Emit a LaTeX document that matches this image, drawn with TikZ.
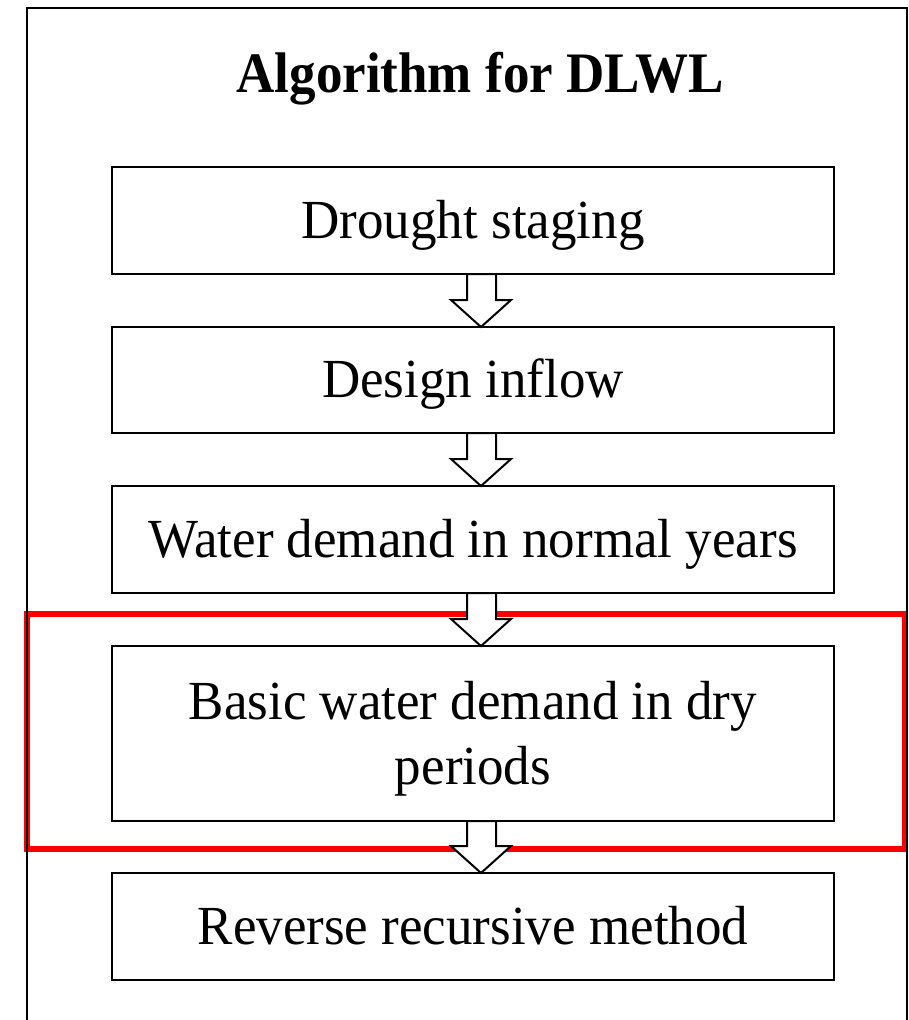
\documentclass[tikz,border=0pt]{standalone}
\usepackage{fontspec}
\setmainfont{Liberation Serif}
\usetikzlibrary{calc}
\newcommand{\vs}[1]{\scalebox{1}[1.04]{#1}}
\newcommand{\oneline}[1]{\raisebox{0pt}[35pt][0pt]{\vs{#1}}}
\tikzset{
  stepbox/.style={draw=black, line width=2pt, fill=white, minimum width=722pt, inner sep=0pt, outer sep=0pt, align=center, font=\fontsize{53}{65}\selectfont},
  blockarr/.style={draw=black, line width=2pt, fill=white, line join=miter},
  frameline/.style={draw=black, line width=2pt},
  redline/.style={draw=red, line width=6.5pt},
}
\newcommand{\blockarrow}[2]{%
  \draw[blockarr] ($(#1.south)+(-6,0)$) -- ($(#1.south)+(23,0)$) -- ($(#2.north)+(23,-27)$) -- ($(#2.north)+(38,-27)$) -- ($(#2.north)+(8,0)$) -- ($(#2.north)+(-22,-27)$) -- ($(#2.north)+(-6,-27)$) -- cycle;}
\begin{document}
\begin{tikzpicture}[x=1pt,y=-1pt]
\useasboundingbox (0,0) rectangle (908,1020);
% red highlight
\draw[redline] (27,614) rectangle (905,849);
% outer frame (open at bottom)
\draw[frameline] (27,1025) -- (27,8) -- (907,8) -- (907,1025);
% title
\node[anchor=base, inner sep=0pt, font=\fontsize{53}{62}\selectfont\bfseries] (title) at (480,92) {\scalebox{1}[1.08]{Algorithm for DLWL}};
% boxes
\node[stepbox, minimum height=107pt] (b1) at (473,220.5) {\oneline{Drought staging}};
\node[stepbox, minimum height=106pt] (b2) at (473,380) {\oneline{Design inflow}};
\node[stepbox, minimum height=107pt] (b3) at (473,539.5) {\oneline{Water demand in normal years}};
\node[stepbox, minimum height=175pt] (b4) at (473,733.5) {\raisebox{0pt}[34pt][63pt]{\parbox[t]{700pt}{\centering\vs{Basic water demand in dry}\\\vs{periods}}}};
\node[stepbox, minimum height=107pt] (b5) at (473,926.5) {\oneline{Reverse recursive method}};
% arrows
\blockarrow{b1}{b2}
\blockarrow{b2}{b3}
\blockarrow{b3}{b4}
\blockarrow{b4}{b5}
\end{tikzpicture}
\end{document}
